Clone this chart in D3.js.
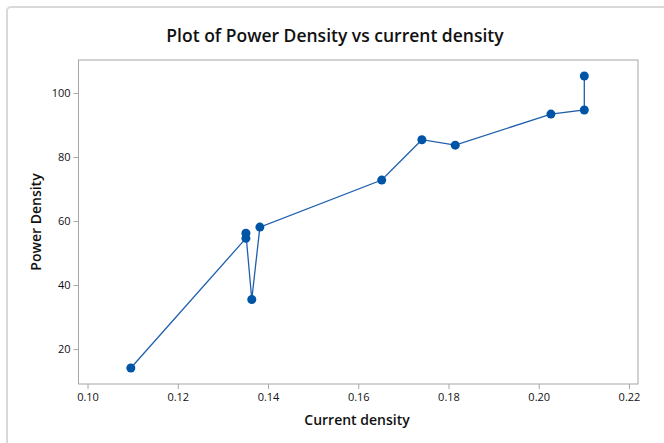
<!DOCTYPE html>
<html>
<head>
<meta charset="utf-8">
<script src="https://cdn.jsdelivr.net/npm/d3@7"></script>
<style>
  body { margin: 0; background: #fff; }
  svg text { font-family: "Open Sans", "Noto Sans", sans-serif; fill: #111; }
</style>
</head>
<body>
<div id="chart"></div>
<script>
// values
let currentDensity = [0.1096, 0.1351, 0.1351, 0.1364, 0.1382, 0.1652, 0.1741, 0.1815, 0.2027, 0.2101, 0.2101];
let powerDensity   = [14.1, 54.6, 56.2, 35.5, 58.1, 72.8, 85.4, 83.7, 93.4, 94.7, 105.3];
let xTicks = [0.10, 0.12, 0.14, 0.16, 0.18, 0.20, 0.22];
let yTicks = [20, 40, 60, 80, 100];

let width = 664, height = 443;
let margin = {left: 78.5, top: 60, right: 26, bottom: 59};

let svg = d3.select("#chart")
    .append("svg")
    .attr("width", width)
    .attr("height", height);

// light outer frame
svg.append("rect")
    .attr("x", 7).attr("y", 7)
    .attr("width", 700).attr("height", 500)
    .attr("rx", 4)
    .attr("fill", "none")
    .attr("stroke", "#d9d9d9")
    .attr("stroke-width", 2);

let data = currentDensity.map((d, i) => ({x: d, y: powerDensity[i]}));

let x = d3.scaleLinear()
    .domain([0.098, 0.222])
    .range([margin.left, width - margin.right]);

let y = d3.scaleLinear()
    .domain([9.1, 110.3])
    .range([height - margin.bottom, margin.top]);

// plot frame
svg.append("rect")
    .attr("x", margin.left)
    .attr("y", margin.top)
    .attr("width", width - margin.right - margin.left)
    .attr("height", height - margin.bottom - margin.top)
    .attr("fill", "none")
    .attr("stroke", "#a6a6a6")
    .attr("stroke-width", 1);

let xAxis = svg.append("g")
    .attr("transform", `translate(0, ${height - margin.bottom})`)
    .call(d3.axisBottom(x).tickValues(xTicks).tickFormat(d3.format(".2f")).tickSize(5).tickPadding(4));

let yAxis = svg.append("g")
    .attr("transform", `translate(${margin.left}, 0)`)
    .call(d3.axisLeft(y).tickValues(yTicks).tickSize(5).tickPadding(3));

[xAxis, yAxis].forEach(function(a) {
    a.select(".domain").remove();
    a.selectAll("line").attr("stroke", "#a6a6a6");
    a.selectAll("text").style("font-size", "11px").attr("fill", "#111");
});

let line = d3.line()
    .x(d => x(d.x))
    .y(d => y(d.y));

svg.append("path")
    .datum(data)
    .attr("d", line)
    .attr("fill", "none")
    .attr("stroke", "#1f5fae")
    .attr("stroke-width", 1.3);

svg.selectAll("circle.pt")
    .data(data)
    .enter()
    .append("circle")
    .attr("class", "pt")
    .attr("cx", d => x(d.x))
    .attr("cy", d => y(d.y))
    .attr("r", 4.5)
    .attr("fill", "#0054a6");

// title
svg.append("text")
    .attr("x", 335)
    .attr("y", 42)
    .style("text-anchor", "middle")
    .style("font-size", "17.5px")
    .style("font-weight", 600)
    .text("Plot of Power Density vs current density");

// x-axis label
svg.append("text")
    .attr("x", 357)
    .attr("y", 425)
    .style("text-anchor", "middle")
    .style("font-size", "14px")
    .style("font-weight", 600)
    .text("Current density");

// y-axis label
svg.append("text")
    .attr("transform", `translate(41, 222) rotate(-90)`)
    .style("text-anchor", "middle")
    .style("font-size", "14px")
    .style("font-weight", 600)
    .text("Power Density");
</script>
</body>
</html>
